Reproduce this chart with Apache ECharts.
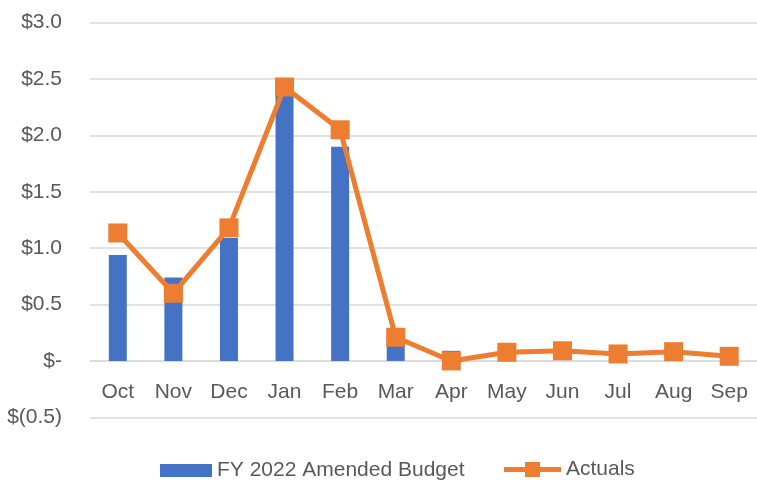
<!DOCTYPE html>
<html><head><meta charset="utf-8">
<script src="https://cdn.jsdelivr.net/npm/echarts@6/dist/echarts.min.js"></script>
<style>html,body{margin:0;padding:0;background:#fff}#c{width:757px;height:480px}</style>
</head><body><div id="c"></div>
<script>
const categories = ['Oct','Nov','Dec','Jan','Feb','Mar','Apr','May','Jun','Jul','Aug','Sep'];
const budget = [0.94, 0.74, 1.09, 2.40, 1.90, 0.18, 0.09, 0, 0, 0, 0, 0];
const actuals = [1.135, 0.60, 1.18, 2.43, 2.05, 0.21, 0.0, 0.077, 0.09, 0.062, 0.082, 0.041];
const seriesNames = ['FY 2022 Amended Budget', 'Actuals'];
const FONT = '"Liberation Sans", "DejaVu Sans", sans-serif';
const chart = echarts.init(document.getElementById('c'));
chart.setOption({
  animation: false,
  grid: {left: 90, right: 0, top: 22.7, bottom: 62.7},
  legend: [
    {
      top: 455, left: 155, itemGap: 0,
      textStyle: {fontFamily: FONT, fontSize: 21, color: '#595959'},
      data: [{name: seriesNames[0], icon: 'rect', itemStyle: {color: '#4472C4'}}],
      itemWidth: 52, itemHeight: 13
    },
    {
      top: 454, left: 499, itemGap: 0,
      textStyle: {fontFamily: FONT, fontSize: 21, color: '#595959'},
      data: [{name: seriesNames[1],
              icon: 'path://M0,5 L21,5 L21,0 L36,0 L36,5 L57,5 L57,10 L36,10 L36,15 L21,15 L21,10 L0,10 Z',
              itemStyle: {color: '#ED7D31'}}],
      itemWidth: 57, itemHeight: 15
    }
  ],
  xAxis: {
    type: 'category', data: categories,
    offset: -56.3,
    axisLine: {onZero: false, lineStyle: {color: '#D9D9D9', width: 1.5}},
    axisTick: {show: false},
    axisLabel: {fontFamily: FONT, fontSize: 21, color: '#595959', margin: 21}
  },
  yAxis: {
    type: 'value', min: -0.5, max: 3.0, interval: 0.5,
    axisLine: {show: false}, axisTick: {show: false},
    splitLine: {lineStyle: {color: '#D9D9D9', width: 1.5}},
    axisLabel: {
      fontFamily: FONT, fontSize: 21, color: '#595959', margin: 28,
      formatter: v => {
        if (Math.abs(v) < 1e-9) return '$-';
        if (v < 0) return '$(' + Math.abs(v).toFixed(1) + ')';
        return '$' + v.toFixed(1);
      }
    }
  },
  series: [
    {name: seriesNames[0], type: 'bar', data: budget, barWidth: 18,
     itemStyle: {color: '#4472C4'}},
    {name: seriesNames[1], type: 'line', data: actuals,
     symbol: 'rect', symbolSize: 19,
     lineStyle: {color: '#ED7D31', width: 5},
     itemStyle: {color: '#ED7D31'}}
  ]
});
</script></body></html>
